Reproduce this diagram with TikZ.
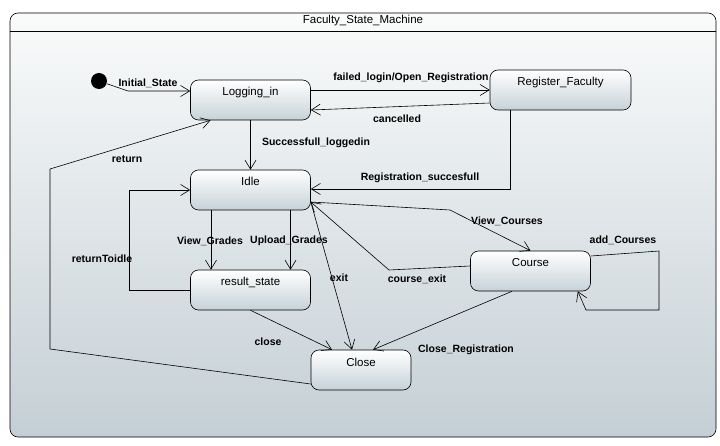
\documentclass[tikz,border=0pt]{standalone}
\usepackage{fontspec}
\setmainfont{Liberation Sans}
\usetikzlibrary{arrows.meta}

\definecolor{stateblue}{RGB}{198,210,216}
\definecolor{frametop}{RGB}{250,251,251}
\definecolor{framebot}{RGB}{196,207,213}

\begin{document}
\begin{tikzpicture}[
        x=1pt, y=-1pt, % координаты как в пикселях
        line width=0.6pt,
        state/.style={draw, rounded corners=8pt, top color=white, bottom color=stateblue,
                minimum width=120pt, inner xsep=0pt, inner ysep=8pt,
                text height=8pt, text depth=16pt, font=\fontsize{11.5}{12}\selectfont}, % Стиль состояний
        start/.style={circle, fill=black, minimum size=16pt, inner sep=0pt},
        trans/.style={draw, -{Straight Barb[length=9pt,width=11pt]}},
        lbl/.style={font=\bfseries\fontsize{10.5}{12}\selectfont, inner sep=1pt},
    ]
    \useasboundingbox (0,0) rectangle (720,446);

    % рамка машины состояний
    \draw[rounded corners=8pt, top color=frametop, bottom color=framebot] (10,13) rectangle (716,437);
    \draw (10,31) -- (716,31);
    \node[font=\fontsize{11.5}{12}\selectfont] (title) at (363,21) {Faculty\_State\_Machine};

    % состояния
    \node[start] (init) at (99,81) {};
    \node[state] (login) at (250.5,100) {Logging\_in};
    \node[state, minimum width=141pt] (reg) at (560.5,90) {Register\_Faculty};
    \node[state] (idle) at (250.5,190) {Idle};
    \node[state] (res) at (250.5,290) {result\_state};
    \node[state] (course) at (530.5,271) {Course};
    \node[state, minimum width=100pt] (close) at (361,370) {Close};

    % переходы
    \draw[trans] (init) -- (128,91) -- ([yshift=9pt]login.west);
    \draw[trans] ([yshift=10pt]login.east) -- (reg.west);
    \draw[trans] ([yshift=-13pt]reg.west) -- ([yshift=-10pt]login.east);
    \draw[trans] (login.south) -- (idle.north);
    \draw[trans] ([xshift=-50.5pt]reg.south) |- ([yshift=1pt]idle.east);
    \draw[trans] ([xshift=-39.5pt]idle.south) -- ([xshift=-39.5pt]res.north);
    \draw[trans] ([xshift=40pt]idle.south) -- ([xshift=40pt]res.north);
    \draw[trans] (res.west) -- (129,290) |- (idle.west);
    \draw[trans] ([yshift=-12pt]idle.east) -- (450,210) -- (course.north);
    \draw[trans] ([yshift=5pt]course.west) -- (389,270) -- ([yshift=-12pt]idle.east);
    \draw[trans] ([yshift=-12pt]idle.east) -- ([xshift=-9pt]close.north);
    \draw[trans] ([yshift=15pt]course.east) -- (659,251) -- (659,310) -- (586,310) -- ([xshift=-13pt]course.south east);
    \draw[trans] (res.south) -- ([xshift=-29pt]close.north);
    \draw[trans] ([xshift=-18.5pt]course.south) -- ([xshift=12pt]close.north);
    \draw[trans] ([yshift=-14pt]close.west) -- (50,349) -- (50,169) -- ([xshift=-40pt]login.south);

    % подписи переходов
    \node[lbl] (l-init) at (148,83) {Initial\_State};
    \node[lbl] (l-failed) at (411,78) {failed\_login/Open\_Registration};
    \node[lbl] (l-cancel) at (397,119) {cancelled};
    \node[lbl] (l-login) at (316,143) {Successfull\_loggedin};
    \node[lbl] (l-reg) at (420,178) {Registration\_succesfull};
    \node[lbl] (l-view) at (210,241) {View\_Grades};
    \node[lbl] (l-upload) at (289,241) {Upload\_Grades};
    \node[lbl] (l-ret) at (102,259) {returnToidle};
    \node[lbl] (l-return) at (127,159) {return};
    \node[lbl] (l-vc) at (507,221) {View\_Courses};
    \node[lbl] (l-add) at (623,240) {add\_Courses};
    \node[lbl] (l-cexit) at (417,279) {course\_exit};
    \node[lbl] (l-exit) at (339,278) {exit};
    \node[lbl] (l-close) at (268,342) {close};
    \node[lbl] (l-closereg) at (466,350) {Close\_Registration};
\end{tikzpicture}
\end{document}
